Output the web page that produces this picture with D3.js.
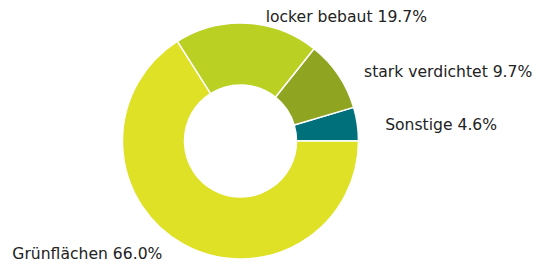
<!DOCTYPE html>
<html>
<head>
<meta charset="utf-8">
<script src="https://cdn.jsdelivr.net/npm/d3@7"></script>
<style>
  html, body { margin: 0; padding: 0; background: #fff; }
  svg { display: block; }
</style>
</head>
<body>
<svg id="chart" width="550" height="268"></svg>
<script>
// land use shares, drawn counter-clockwise from 3 o'clock
const categories = ["Sonstige", "stark verdichtet", "locker bebaut", "Grünflächen"]
const shares = [4.6, 9.7, 19.7, 66.0]
const colors = ["#00707a", "#8fa521", "#bad023", "#dee125"]

const width = 550, height = 268
const cx = 240.5, cy = 141
const outerR = 118, innerR = 56
const labelRx = 131, labelRy = 126.4
const labelPad = 15, labelShiftY = 2.2
const fontSize = 15.6

const svg = d3.select("#chart")
const g = svg.append("g").attr("transform", `translate(${cx},${cy})`)

const pie = d3.pie()
  .sort(null)
  .startAngle(Math.PI / 2)
  .endAngle(Math.PI / 2 - 2 * Math.PI)
  .value(d => d.value)

const arc = d3.arc().innerRadius(innerR).outerRadius(outerR)

const data = categories.map((c, i) => ({ name: c, value: shares[i], color: colors[i] }))
const arcs = pie(data)

g.selectAll("path.slice")
  .data(arcs)
  .join("path")
  .attr("class", "slice")
  .attr("d", arc)
  .attr("fill", d => d.data.color)
  .attr("stroke", "#fff")
  .attr("stroke-width", 1.5)
  .attr("stroke-linejoin", "round")

// labels sit on an ellipse round the ring, pushed out sideways if they would touch it
g.selectAll("text.label")
  .data(arcs)
  .join("text")
  .attr("class", "label")
  .each(function (d) {
    const mid = (d.startAngle + d.endAngle) / 2
    const y = labelShiftY - labelRy * Math.cos(mid)
    const right = Math.sin(mid) >= 0
    let x = labelRx * Math.sin(mid) + (right ? labelPad : -labelPad)
    const half = fontSize * 0.56
    const nearY = Math.min(Math.abs(y - half), Math.abs(y + half))
    const edge = Math.sqrt(Math.max(0, outerR * outerR - nearY * nearY))
    if (right) x = Math.max(x, edge)
    else x = Math.min(x, -edge)
    d3.select(this)
      .attr("x", x)
      .attr("y", y)
      .attr("text-anchor", right ? "start" : "end")
      .attr("dominant-baseline", "central")
  })
  .attr("font-family", "'DejaVu Sans', sans-serif")
  .attr("font-size", fontSize)
  .attr("fill", "#222")
  .text(d => `${d.data.name} ${d.data.value.toFixed(1)}%`)
</script>
</body>
</html>
